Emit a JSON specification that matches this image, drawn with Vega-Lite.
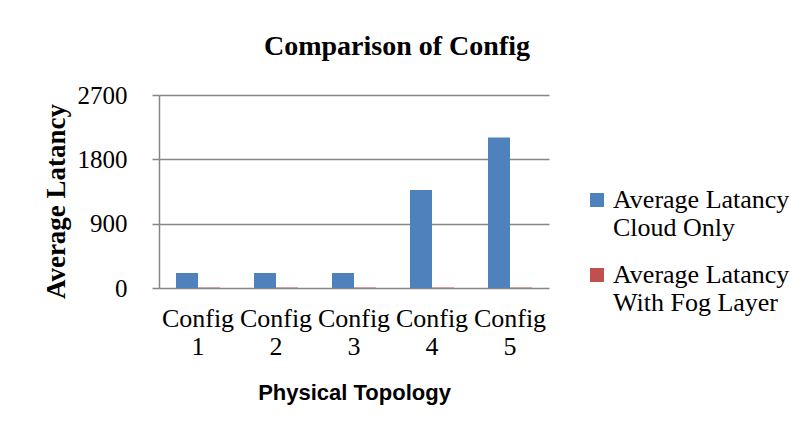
{
  "$schema": "https://vega.github.io/schema/vega-lite/v6.json",
  "width": 390,
  "height": 193,
  "autosize": {"type": "none"},
  "padding": {"left": 159, "top": 95, "right": 260, "bottom": 147},
  "background": "white",
  "title": {
    "text": "Comparison of Config",
    "font": "Liberation Serif",
    "fontSize": 28,
    "fontWeight": "bold",
    "color": "black",
    "anchor": "middle",
    "dx": 43,
    "offset": 22
  },
  "data": {
    "values": [
      {"config": "Config 1", "series": "Average Latancy Cloud Only", "latency": 210},
      {"config": "Config 1", "series": "Average Latancy With Fog Layer", "latency": 6},
      {"config": "Config 2", "series": "Average Latancy Cloud Only", "latency": 210},
      {"config": "Config 2", "series": "Average Latancy With Fog Layer", "latency": 6},
      {"config": "Config 3", "series": "Average Latancy Cloud Only", "latency": 210},
      {"config": "Config 3", "series": "Average Latancy With Fog Layer", "latency": 6},
      {"config": "Config 4", "series": "Average Latancy Cloud Only", "latency": 1372},
      {"config": "Config 4", "series": "Average Latancy With Fog Layer", "latency": 6},
      {"config": "Config 5", "series": "Average Latancy Cloud Only", "latency": 2107},
      {"config": "Config 5", "series": "Average Latancy With Fog Layer", "latency": 6}
    ]
  },
  "mark": {"type": "bar"},
  "encoding": {
    "x": {
      "field": "config",
      "type": "nominal",
      "scale": {"paddingInner": 0.436, "paddingOuter": 0.218},
      "axis": {
        "title": "Physical Topology",
        "titleFont": "Liberation Sans",
        "titleFontSize": 22,
        "titleFontWeight": "bold",
        "titleColor": "black",
        "titlePadding": 23,
        "labelAngle": 0,
        "labelFont": "Liberation Serif",
        "labelFontSize": 26,
        "labelColor": "black",
        "labelExpr": "split(datum.label, ' ')",
        "labelLineHeight": 28,
        "labelPadding": 17,
        "ticks": false,
        "domain": false,
        "labelLimit": 200
      }
    },
    "xOffset": {"field": "series", "type": "nominal", "scale": {"paddingInner": 0, "paddingOuter": 0}},
    "y": {
      "field": "latency",
      "type": "quantitative",
      "scale": {"domain": [0, 2700], "nice": false},
      "axis": {
        "title": "Average Latancy",
        "titleFont": "Liberation Serif",
        "titleFontSize": 27,
        "titleFontWeight": "bold",
        "titleColor": "black",
        "titlePadding": 7,
        "titleY": 106,
        "values": [0, 900, 1800, 2700],
        "format": "d",
        "labelFont": "Liberation Serif",
        "labelFontSize": 25,
        "labelColor": "black",
        "labelPadding": 25,
        "tickSize": 7,
        "tickColor": "#868686",
        "tickWidth": 1.5,
        "domainColor": "#868686",
        "domainWidth": 1.5,
        "grid": true,
        "gridColor": "#868686",
        "gridWidth": 1.5
      }
    },
    "color": {
      "field": "series",
      "type": "nominal",
      "scale": {"range": ["#4F81BD", "#C0504D"]},
      "legend": {
        "title": null,
        "orient": "none",
        "legendX": 425,
        "legendY": 92,
        "symbolType": "square",
        "symbolSize": 196,
        "symbolStrokeWidth": 0,
        "symbolOpacity": 1,
        "labelFont": "Liberation Serif, serif",
        "labelFontSize": 26,
        "labelColor": "black",
        "labelExpr": "datum.value == 'Average Latancy Cloud Only' ? ['Average Latancy', 'Cloud Only'] : ['Average Latancy', 'With Fog Layer']",
        "labelLineHeight": 30,
        "labelOffset": 3,
        "labelLimit": 300,
        "rowPadding": 21
      }
    }
  },
  "config": {
    "font": "Liberation Serif",
    "view": {"stroke": null},
    "axis": {"labelOverlap": false}
  }
}
